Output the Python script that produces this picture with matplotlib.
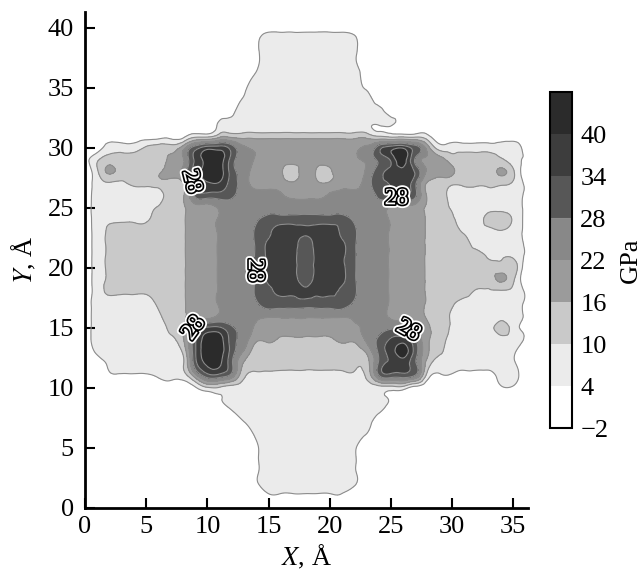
import matplotlib
matplotlib.use("Agg")
import matplotlib.pyplot as plt
import matplotlib.patheffects as pe
from matplotlib.tri import Triangulation, UniformTriRefiner
import numpy as np

plt.rcParams['font.family'] = ['Liberation Serif', 'DejaVu Serif']
plt.rcParams['mathtext.fontset'] = 'stix'

# stress map on a 1 A grid
# one string per row: first row is Y = 40, last row is Y = 0, columns are X = 0..36
# each character is a base-36 digit k, the stress is 2*k - 1 GPa
stress_rows = [
    "1111111111111111111111111111111111111",  # Y = 40
    "1111111111111124444444311111111111111",
    "1111111111111124444444311111111111111",
    "1111111111111124444444311111111111111",
    "1111111111111134444444411111111111111",  # Y = 36
    "1111111111111244444444421111111111111",
    "1111111111111344444444441111111111111",
    "1111111111112444444444444111111111111",
    "1111111111133333333333333311111111111",  # Y = 32
    "1111111114477777777777775444311111111",
    "11444677agjjgcbbbbbbbbbcgjkga44444441",
    "15777779bimmgdbaaaaaaabcfimeba7777642",
    "0597778acjmmgdaa97a88aacgjkhba9777960",  # Y = 28
    "045566778hkkgdaaa9a99aadgijf876666652",
    "044444478fggfdddcbbbcdddfggf874444442",
    "044444678aacdddddddddddddbaa875444442",
    "045555778aacddegggggggeddbaa876447852",  # Y = 24
    "046777778aacddfhjjijjhfddbaa877544542",
    "046777778aacddfijjgjjifddbaa877744442",
    "046777778aacddfijjfjjifddbaa877775552",
    "046777778aacddfijjfjjifddbaa877777770",  # Y = 20
    "046777778aacddfijjgjjifddbaa877777960",
    "046666778aacddfhiiiiihfddbaa877755552",
    "044444678aacddegggggggeddbaa876444442",
    "044444578aaccccccccccccccbaa875444442",  # Y = 16
    "044444468fiifdbaaaaaaabcdeec975444742",
    "044444458hmmgd998888899cfijf974444442",
    "034444446hmmgb7777777779fjmg964444430",
    "013444445gllf86666666667fijf744444430",  # Y = 12
    "002222344aggd65555555556egge422111440",
    "0000000002554444444444444441000000220",
    "0000000000024444444444444200000000000",
    "0000000000002444444444443000000000000",  # Y = 8
    "0000000000000244444444440000000000000",
    "0000000000000034444444420000000000000",
    "0000000000000024444444300000000000000",
    "0000000000000024444444300000000000000",  # Y = 4
    "0000000000000024444444300000000000000",
    "0000000000000024444444300000000000000",
    "0000000000000002222222000000000000000",
    "0000000000000000000000000000000000000",  # Y = 0
]
x_nodes = np.arange(37)
y_nodes = np.arange(41)

levels = [-2, 4, 10, 16, 22, 28, 34, 40, 46]
band_colors = ['#ffffff', '#ebebeb', '#c9c9c9', '#9b9b9b', '#888888',
               '#575757', '#3d3d3d', '#2b2b2b']
cbar_ticks = [-2, 4, 10, 16, 22, 28, 34, 40]
label_level = 28
label_spots = [(8.7, 27.2), (25.3, 26.6), (13.7, 19.8), (9.2, 14.8), (26.5, 14.9)]

bad = [r for r in stress_rows if len(r) != len(x_nodes)]
assert not bad, bad

stress = np.array([[2 * int(c, 36) - 1 for c in row] for row in stress_rows], dtype=float)
stress = stress[::-1]

# let matplotlib's triangulation refiner smooth the coarse grid for drawing
xx, yy = np.meshgrid(x_nodes, y_nodes)
tri = Triangulation(xx.ravel(), yy.ravel())
tri_fine, stress_fine = UniformTriRefiner(tri).refine_field(stress.ravel(), subdiv=3)
stress_fine = np.clip(stress_fine, levels[0] + 0.1, levels[-1] - 0.1)

fig = plt.figure(figsize=(6.42, 5.77), dpi=100)
ax = fig.add_axes([0.1324, 0.1196, 0.690, 0.8596])

cf = ax.tricontourf(tri_fine, stress_fine, levels=levels, colors=band_colors)
line_levels = [v for v in levels[1:-1] if v != label_level]
cl = ax.tricontour(tri_fine, stress_fine, levels=line_levels,
                   colors='#8c8c8c', linewidths=0.8)
cl28 = ax.tricontour(tri_fine, stress_fine, levels=[label_level],
                     colors='#8c8c8c', linewidths=0.8)

texts = ax.clabel(cl28, manual=label_spots, fmt='%d', fontsize=17,
                  inline=True, inline_spacing=2, colors='white')
for t in texts:
    t.set_path_effects([pe.Stroke(linewidth=5, foreground='white'),
                        pe.Stroke(linewidth=2.4, foreground='black'),
                        pe.Normal()])

ax.set_xlim(0, 36.2)
ax.set_ylim(0, 41.3)
ax.set_xticks(range(0, 36, 5))
ax.set_yticks(range(0, 41, 5))
ax.spines[['top', 'right']].set_visible(False)
for s in ['left', 'bottom']:
    ax.spines[s].set_linewidth(2)
ax.tick_params(direction='in', length=7, width=1.5, labelsize=19)
ax.tick_params(axis='x', pad=6)
ax.tick_params(axis='y', pad=8)
ax.set_xlabel(r'$X$, Å', fontsize=19, labelpad=3)
ax.set_ylabel(r'$Y$, Å', fontsize=19, labelpad=7)

cax = fig.add_axes([0.8567, 0.2582, 0.0343, 0.5823])
cb = fig.colorbar(cf, cax=cax, ticks=cbar_ticks)
cb.add_lines(cl)
cb.add_lines(cl28)
cb.outline.set_linewidth(1.5)
cb.ax.tick_params(length=0, labelsize=19, pad=6)
cb.set_label('GPa', fontsize=19, labelpad=8)

fig.savefig('out.png', dpi=100)
